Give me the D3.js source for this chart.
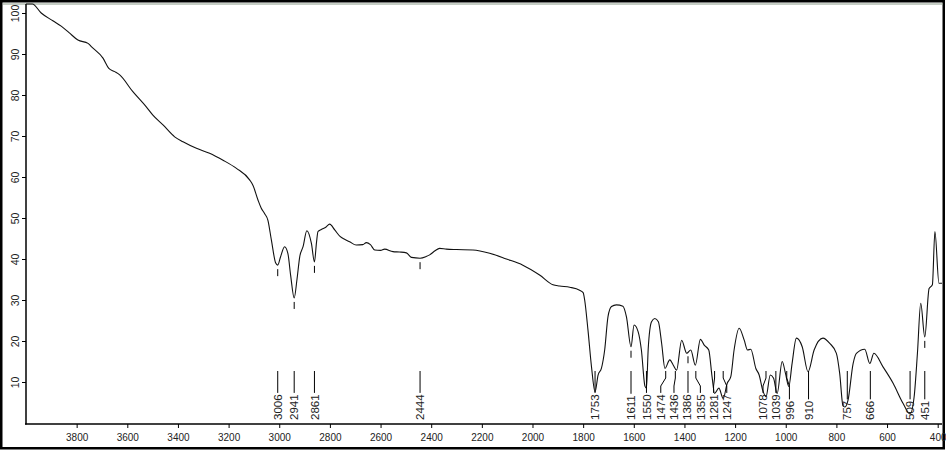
<!DOCTYPE html>
<html><head><meta charset="utf-8">
<script src="https://cdn.jsdelivr.net/npm/d3@7"></script>
<style>html,body{margin:0;padding:0;background:#fff;} svg{display:block;}</style>
</head><body>
<svg id="chart" width="946" height="452"></svg>
<script>
const wavenumber = [4000,3975,3940,3894,3861,3830,3795,3755,3742,3696,3673,3650,3630,3578,3525,3499,3459,3413,3380,3327,3275,3222,3169,3117,3104,3084,3071,3058,3045,3031,3014,3006,2995,2979,2966,2955,2941,2930,2919,2906,2891,2873,2861,2853,2847,2834,2815,2801,2781,2760,2742,2722,2696,2670,2656,2640,2623,2600,2584,2551,2525,2498,2478,2444,2420,2406,2385,2367,2340,2300,2235,2169,2103,2038,1972,1919,1893,1853,1814,1800,1794,1781,1767,1753,1741,1728,1715,1702,1688,1669,1643,1629,1611,1599,1583,1570,1556,1550,1543,1530,1517,1503,1490,1477,1458,1444,1431,1411,1391,1375,1357,1337,1322,1304,1291,1281,1264,1247,1231,1217,1204,1184,1164,1151,1138,1118,1105,1091,1078,1061,1048,1034,1014,1001,988,975,958,935,912,888,853,826,800,787,774,767,754,734,721,688,668,652,616,576,537,509,493,480,467,451,434,421,411,395,383];
const transmittance = [102.2,102.2,100.0,98.1,96.8,95.2,93.4,92.6,91.8,89.0,86.5,85.7,84.9,80.8,77.1,75.1,72.7,69.8,68.6,67.0,65.8,64.1,62.1,59.3,58.0,54.4,52.4,51.1,49.5,44.6,39.0,38.5,40.5,43.0,41.4,36.0,30.5,35.0,40.6,43.0,46.9,43.8,39.3,44.0,46.7,47.2,47.8,48.5,47.1,45.5,44.8,44.2,43.4,43.5,44.0,43.5,42.2,42.1,42.4,41.8,41.7,41.5,40.4,40.2,40.6,41.0,42.0,42.6,42.4,42.3,42.2,41.4,40.0,38.5,36.1,33.7,33.4,33.1,32.4,31.8,30.0,22.7,13.7,7.6,11.7,13.3,17.8,25.9,28.4,28.8,28.5,25.9,18.6,23.9,22.3,17.8,9.0,8.5,18.2,24.7,25.5,24.7,19.4,13.3,15.4,14.1,12.9,20.2,17.0,17.8,14.1,20.4,19.0,17.8,11.3,7.2,8.5,6.0,9.7,11.3,17.8,23.1,20.2,17.8,18.0,13.3,11.7,8.0,6.4,11.7,10.9,7.2,15.0,12.1,8.9,14.5,20.7,18.6,12.5,17.8,20.7,19.4,17.0,12.1,4.2,3.9,5.6,14.5,17.0,18.0,14.5,17.0,13.7,9.7,4.8,2.2,6.4,17.0,29.2,21.0,32.8,33.7,46.7,34.1,34.1];
const peakLabels = [3006,2941,2861,2444,1753,1611,1550,1474,1436,1386,1355,1281,1247,1078,1039,996,910,757,666,509,451];
const xTickValues = [3800,3600,3400,3200,3000,2800,2600,2400,2200,2000,1800,1600,1400,1200,1000,800,600,400];
const yTickValues = [10,20,30,40,50,60,70,80,90,100];

const svg = d3.select("#chart");
const x = d3.scaleLinear().domain([4000,383]).range([26,942]);
const y = d3.scaleLinear().domain([0,100]).range([423,13]);
const font = "Liberation Sans, Arial, sans-serif";

// outer frame
svg.append("rect").attr("x",1.25).attr("y",1.25).attr("width",942.5).attr("height",447)
  .attr("fill","none").attr("stroke","#000").attr("stroke-width",2.5);
svg.append("line").attr("x1",3).attr("x2",943).attr("y1",4).attr("y2",4)
  .attr("stroke","#8c9c8a").attr("stroke-width",1);

// axes
const xAxis = d3.axisBottom(x).tickValues(xTickValues).tickSize(4).tickSizeOuter(0).tickPadding(5.5).tickFormat(d3.format("d"));
const gx = svg.append("g").attr("transform","translate(0,424)").call(xAxis);
gx.select(".domain").remove();
gx.selectAll("text").attr("font-family",font).attr("font-size",10).attr("fill","#222");
gx.selectAll("line").attr("stroke","#000");

const yAxis = d3.axisLeft(y).tickValues(yTickValues).tickSize(4).tickSizeOuter(0).tickFormat(d3.format("d"));
const gy = svg.append("g").attr("transform","translate(26,0)").call(yAxis);
gy.select(".domain").remove();
gy.selectAll("line").attr("stroke","#000");
gy.selectAll("text").attr("font-family",font).attr("font-size",10.5).attr("fill","#222")
  .attr("x",null).attr("dy","0.35em").attr("text-anchor","middle")
  .attr("transform","translate(-11,0) rotate(-90)");

svg.append("line").attr("x1",26).attr("x2",26).attr("y1",4).attr("y2",424.5).attr("stroke","#000").attr("stroke-width",1.5);
svg.append("line").attr("x1",25).attr("x2",942).attr("y1",424).attr("y2",424).attr("stroke","#000").attr("stroke-width",1.5);

// spectrum
const data = wavenumber.map((w,i)=>({w, t: transmittance[i]}));
const line = d3.line().x(d=>x(d.w)).y(d=>y(d.t)).curve(d3.curveMonotoneX);
svg.append("path").datum(data).attr("d",line).attr("fill","none").attr("stroke","#111").attr("stroke-width",1.1);

// peak labels
function tAt(w){
  for(let i=0;i<wavenumber.length-1;i++){
    if(wavenumber[i]>=w && w>=wavenumber[i+1]){
      const f=(wavenumber[i]-w)/(wavenumber[i]-wavenumber[i+1]);
      return transmittance[i]+f*(transmittance[i+1]-transmittance[i]);
    }
  }
  return transmittance[transmittance.length-1];
}
const px = peakLabels.map(w=>x(w));
const lx = px.slice();
const minGap = 13.2;
for(let it=0;it<400;it++){
  for(let i=1;i<lx.length;i++){
    const gap=lx[i]-lx[i-1];
    if(gap<minGap){const d=(minGap-gap)/2; lx[i-1]-=d; lx[i]+=d;}
  }
}
const gp = svg.append("g");
peakLabels.forEach((w,i)=>{
  const t = gp.append("text").text(String(w))
    .attr("font-family",font).attr("font-size",11.5).attr("fill","#222")
    .attr("text-anchor","start").attr("dy","0.36em")
    .attr("transform",`translate(${lx[i]},420) rotate(-90)`);
  const len = t.node().getComputedTextLength();
  const top = 420 - len - 1.5;
  const cy = y(tAt(w));
  if(cy + 12 < 369){
    gp.append("line").attr("x1",px[i]).attr("x2",px[i]).attr("y1",cy+4).attr("y2",cy+11)
      .attr("stroke","#000").attr("stroke-width",1);
  }
  const start = 371;
  let pts;
  if(Math.abs(lx[i]-px[i])<1) pts=[[px[i],start],[px[i],top]];
  else pts=[[px[i],start],[px[i],378],[lx[i],386],[lx[i],top]];
  gp.append("path").attr("d",d3.line()(pts)).attr("fill","none").attr("stroke","#000").attr("stroke-width",1);
});
</script>
</body></html>
